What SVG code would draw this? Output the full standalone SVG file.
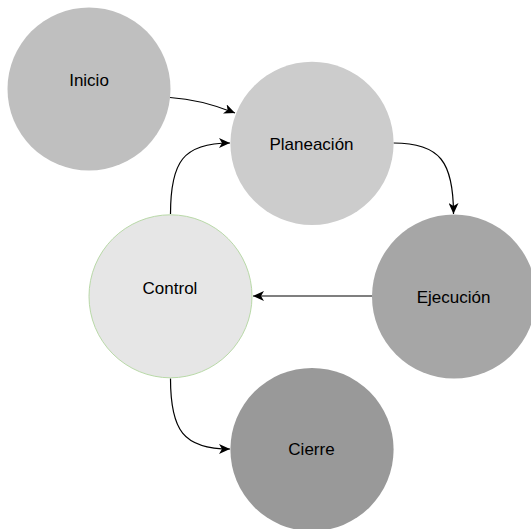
<svg xmlns="http://www.w3.org/2000/svg" width="531" height="529" viewBox="0 0 531 529">
  <style>
    .label { font-family: "Liberation Sans", Arial, sans-serif; font-size: 17px; fill: #000000; text-anchor: middle; }
    .edge { fill: none; stroke: #000000; stroke-width: 1.2; }
  </style>
  <defs>
    <marker id="arrow" markerUnits="userSpaceOnUse" markerWidth="12" markerHeight="10" viewBox="0 0 12 10" refX="11" refY="5" orient="auto">
      <path d="M0,0 L11,5 L0,10 L3,5 Z" fill="#000000"/>
    </marker>
  </defs>
  <rect width="531" height="529" fill="#ffffff"/>

  <g id="connectors">
    <path class="edge" d="M170,97.5 C195,99 215,105 235,113" marker-end="url(#arrow)"/>
    <path class="edge" d="M170.5,214 C170.5,162 183,143 230,143" marker-end="url(#arrow)"/>
    <path class="edge" d="M393.5,143 C440,143 453.5,162 453.5,214" marker-end="url(#arrow)"/>
    <path class="edge" d="M372,296 L253,296" stroke="#666666" stroke-width="1.6" marker-end="url(#arrow)"/>
    <path class="edge" d="M170.5,378.5 C170.5,430 183,449 230,449" marker-end="url(#arrow)"/>
  </g>

  <g id="inicio">
    <circle cx="89" cy="89" r="81.5" fill="#bfbfbf"/>
    <text class="label" x="89" y="86">Inicio</text>
  </g>
  <g id="planeacion">
    <circle cx="312" cy="143.4" r="81.6" fill="#cccccc"/>
    <text class="label" x="311.5" y="150">Planeación</text>
  </g>
  <g id="ejecucion">
    <circle cx="454" cy="296.5" r="82" fill="#a6a6a6"/>
    <text class="label" x="453.5" y="303">Ejecución</text>
  </g>
  <g id="control">
    <circle cx="170.5" cy="296.3" r="81.5" fill="#e6e6e6" stroke="#b9d9a8" stroke-width="1"/>
    <text class="label" x="170" y="293.5">Control</text>
  </g>
  <g id="cierre">
    <circle cx="312" cy="449.5" r="81.6" fill="#999999"/>
    <text class="label" x="311.5" y="455">Cierre</text>
  </g>
</svg>
